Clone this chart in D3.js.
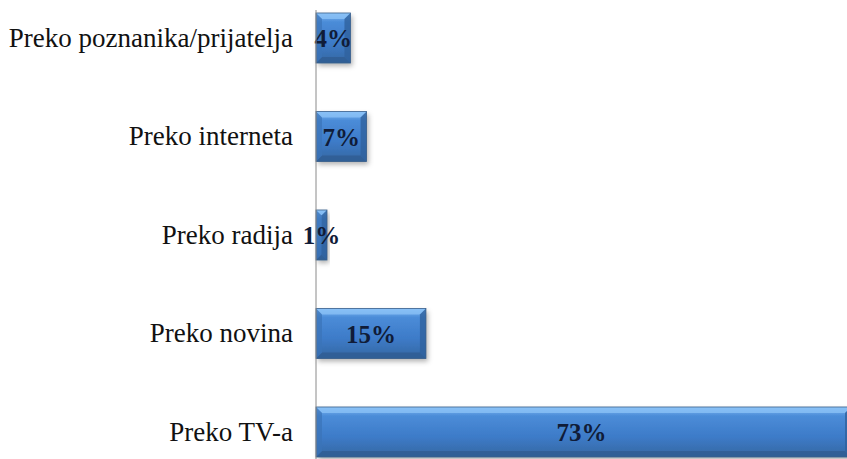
<!DOCTYPE html>
<html>
<head>
<meta charset="utf-8">
<script src="https://cdn.jsdelivr.net/npm/d3@7"></script>
<style>
  body { margin: 0; background: #fff; }
  svg { display: block; }
</style>
</head>
<body>
<div id="chart"></div>
<script>
// data, top to bottom
let categories = ["Preko poznanika/prijatelja", "Preko interneta", "Preko radija", "Preko novina", "Preko TV-a"];
let values = [4.7, 6.9, 1.5, 15, 73];
let valueLabels = ["4%", "7%", "1%", "15%", "73%"];

let width = 847,
	height = 459;
let axisX = 316;
let bevel = 6;

let svg = d3.select("#chart").append("svg")
	.attr("width", width)
	.attr("height", height);

let defs = svg.append("defs");

let grad = defs.append("linearGradient")
	.attr("id", "barGrad")
	.attr("x1", 0).attr("y1", 0).attr("x2", 0).attr("y2", 1);
grad.append("stop").attr("offset", "0%").attr("stop-color", "#80baf4");
grad.append("stop").attr("offset", "18%").attr("stop-color", "#4b8cd8");
grad.append("stop").attr("offset", "60%").attr("stop-color", "#3d7bc8");
grad.append("stop").attr("offset", "100%").attr("stop-color", "#3567a2");

let shadow = defs.append("filter")
	.attr("id", "shadow")
	.attr("x", "-20%").attr("y", "-20%").attr("width", "140%").attr("height", "160%");
shadow.append("feDropShadow")
	.attr("dx", 2).attr("dy", 3)
	.attr("stdDeviation", 2.5)
	.attr("flood-color", "#000")
	.attr("flood-opacity", 0.3);

// the longest bar runs off the right edge
let xScale = d3.scaleLinear()
	.domain([0, 73])
	.range([axisX, width + 4]);

let yScale = d3.scaleBand()
	.domain(categories)
	.range([-11.25, 481.25])
	.paddingInner(0.492)
	.paddingOuter(0.246);

let rows = categories.map((c, i) => ({cat: c, value: values[i], label: valueLabels[i]}));

let bars = svg.append("g").attr("class", "bars");

let bar = bars.selectAll("g")
	.data(rows)
	.enter()
	.append("g");

bar.append("rect")
	.attr("x", axisX)
	.attr("y", d => yScale(d.cat))
	.attr("width", d => xScale(d.value) - axisX)
	.attr("height", yScale.bandwidth())
	.attr("fill", "url(#barGrad)")
	.attr("filter", "url(#shadow)");

// bevel edges
function bevelPath(d, side) {
	let x0 = axisX, x1 = xScale(d.value);
	let y0 = yScale(d.cat), y1 = y0 + yScale.bandwidth();
	let b = Math.min(bevel, (x1 - x0) / 2);
	if (side == "top") return [[x0, y0], [x1, y0], [x1 - b, y0 + b], [x0 + b, y0 + b]];
	if (side == "bottom") return [[x0, y1], [x1, y1], [x1 - b, y1 - b], [x0 + b, y1 - b]];
	if (side == "left") return [[x0, y0], [x0 + b, y0 + b], [x0 + b, y1 - b], [x0, y1]];
	return [[x1, y0], [x1 - b, y0 + b], [x1 - b, y1 - b], [x1, y1]];
}
let bevelFill = {top: "#8cc3f7", bottom: "#2f5d92", left: "#3a74b8", right: "#2f629e"};
let bevelOpacity = {top: 0.75, bottom: 0.8, left: 0.7, right: 0.8};

["top", "bottom", "left", "right"].forEach(side => {
	bar.append("polygon")
		.attr("points", d => bevelPath(d, side).map(p => p.join(",")).join(" "))
		.attr("fill", bevelFill[side])
		.attr("opacity", bevelOpacity[side]);
});

bar.append("rect")
	.attr("x", axisX)
	.attr("y", d => yScale(d.cat))
	.attr("width", d => xScale(d.value) - axisX)
	.attr("height", yScale.bandwidth())
	.attr("fill", "none")
	.attr("stroke", "#3a5f8a")
	.attr("stroke-width", 0.8);

// value labels
bar.append("text")
	.attr("x", d => (axisX + Math.min(xScale(d.value), width)) / 2)
	.attr("y", d => yScale(d.cat) + yScale.bandwidth() / 2)
	.attr("dy", "0.36em")
	.attr("text-anchor", "middle")
	.attr("font-family", "'Liberation Serif', 'Times New Roman', serif")
	.attr("font-weight", "bold")
	.attr("font-size", "25px")
	.attr("fill", "#101c38")
	.text(d => d.label);

// category axis
svg.append("line")
	.attr("x1", axisX).attr("x2", axisX)
	.attr("y1", 10).attr("y2", height)
	.attr("stroke", "#8a8a8a")
	.attr("stroke-width", 1);

svg.append("g")
	.selectAll("text")
	.data(categories)
	.enter()
	.append("text")
	.attr("x", axisX - 23)
	.attr("y", d => yScale(d) + yScale.bandwidth() / 2)
	.attr("dy", "0.33em")
	.attr("text-anchor", "end")
	.attr("font-family", "'Liberation Serif', 'Times New Roman', serif")
	.attr("font-size", "27px")
	.attr("fill", "#111")
	.text(d => d);
</script>
</body>
</html>
